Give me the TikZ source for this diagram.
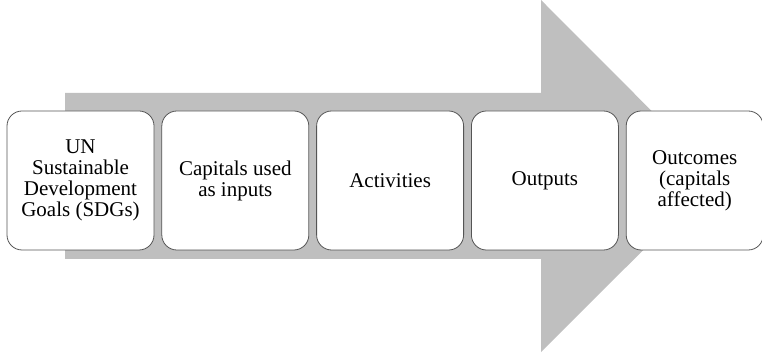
\documentclass[tikz,border=0pt]{standalone}
\usepackage{fontspec}
\setmainfont{Liberation Serif}
\usetikzlibrary{positioning}
\definecolor{bandgray}{HTML}{BFBFBF}
\definecolor{rim}{HTML}{555555}

\begin{document}
\begin{tikzpicture}[x=1pt,y=1pt,node distance=7pt,
  stage/.style={draw=rim,line width=0.8pt,rounded corners=15pt,fill=white,minimum width=147pt,minimum height=139pt,align=center,font=\fontsize{21}{21}\selectfont,inner sep=2pt}]
\useasboundingbox (0,0) rectangle (762,353);
\fill[bandgray] (65,94) -- (541,94) -- (541,1) -- (717,176.5) -- (541,353) -- (541,260) -- (65,260) -- cycle;
\node[stage] (sdg) at (80.5,172.5) {UN\\Sustainable\\Development\\Goals (SDGs)};
\node[stage,right=of sdg] (inputs) {Capitals used\\as inputs};
\node[stage,right=of inputs] (acts) {Activities};
\node[stage,right=of acts] (outs) {Outputs};
\node[stage,right=of outs,minimum width=137pt] (outcomes) {Outcomes\\(capitals\\affected)};
\end{tikzpicture}
\end{document}
